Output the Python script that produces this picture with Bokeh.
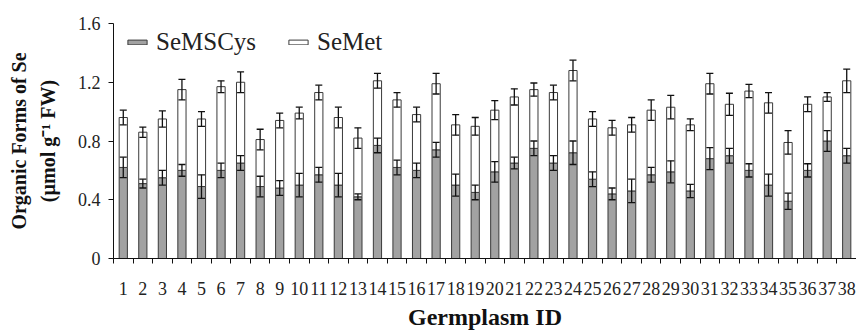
from bokeh.plotting import figure
from bokeh.models import (ColumnDataSource, Range1d, FixedTicker, Whisker, TeeHead,
                          Legend, LegendItem)
from bokeh.embed import file_html
from bokeh.resources import INLINE

germplasm = list(range(1, 39))
semscys = [0.62, 0.51, 0.55, 0.60, 0.49, 0.60, 0.65, 0.49, 0.48, 0.50,
           0.57, 0.50, 0.42, 0.77, 0.62, 0.60, 0.74, 0.50, 0.45, 0.59,
           0.65, 0.75, 0.65, 0.72, 0.54, 0.44, 0.46, 0.57, 0.59, 0.46,
           0.68, 0.70, 0.60, 0.50, 0.39, 0.60, 0.80, 0.70]
semscys_err = [0.07, 0.03, 0.05, 0.04, 0.08, 0.05, 0.05, 0.07, 0.05, 0.08,
               0.05, 0.08, 0.02, 0.05, 0.05, 0.05, 0.05, 0.075, 0.05, 0.07,
               0.04, 0.05, 0.05, 0.08, 0.05, 0.04, 0.08, 0.05, 0.075, 0.045,
               0.075, 0.05, 0.045, 0.075, 0.055, 0.045, 0.07, 0.05]
semet = [0.34, 0.35, 0.40, 0.55, 0.46, 0.57, 0.55, 0.32, 0.46, 0.49,
         0.56, 0.46, 0.40, 0.44, 0.46, 0.38, 0.45, 0.41, 0.45, 0.42,
         0.45, 0.40, 0.48, 0.56, 0.41, 0.45, 0.45, 0.44, 0.44, 0.45,
         0.51, 0.35, 0.54, 0.56, 0.40, 0.45, 0.30, 0.51]
total_err = [0.05, 0.035, 0.055, 0.07, 0.05, 0.04, 0.07, 0.07, 0.05, 0.04,
             0.05, 0.07, 0.07, 0.05, 0.05, 0.05, 0.07, 0.07, 0.06, 0.065,
             0.055, 0.045, 0.05, 0.07, 0.05, 0.05, 0.05, 0.07, 0.08, 0.04,
             0.07, 0.075, 0.045, 0.07, 0.08, 0.05, 0.03, 0.08]
y_ticks = [0, 0.4, 0.8, 1.2, 1.6]
y_tick_labels = ["0", "0.4", "0.8", "1.2", "1.6"]

total = [a + b for a, b in zip(semscys, semet)]
src = ColumnDataSource(dict(
    x=germplasm, g=semscys, t=total,
    g_lo=[a - e for a, e in zip(semscys, semscys_err)],
    g_hi=[a + e for a, e in zip(semscys, semscys_err)],
    t_lo=[a - e for a, e in zip(total, total_err)],
    t_hi=[a + e for a, e in zip(total, total_err)],
))

FONT = "Liberation Serif"

p = figure(width=856, height=332, output_backend="svg", toolbar_location=None,
           x_range=Range1d(0.5, 38.5), y_range=Range1d(0, 1.6),
           min_border_left=113, min_border_right=0, min_border_top=23,
           min_border_bottom=73)
p.outline_line_color = None
p.xgrid.visible = False
p.ygrid.visible = False

bw = 0.42
r1 = p.vbar(x="x", bottom=0, top="g", width=bw, source=src,
            fill_color="#a2a2a2", line_color="#3a3a3a", line_width=1)
r2 = p.vbar(x="x", bottom="g", top="t", width=bw, source=src,
            fill_color="white", line_color="#3a3a3a", line_width=1)

for lo, hi in (("g_lo", "g_hi"), ("t_lo", "t_hi")):
    w = Whisker(source=src, base="x", lower=lo, upper=hi, level="annotation",
                line_color="#111111", line_width=1.3,
                upper_head=TeeHead(size=7, line_color="#111111", line_width=1.3),
                lower_head=TeeHead(size=7, line_color="#111111", line_width=1.3))
    p.add_layout(w)

# x axis
xa = p.xaxis[0]
xa.ticker = FixedTicker(ticks=germplasm, minor_ticks=[i + 0.5 for i in range(0, 39)])
xa.major_tick_out = 0
xa.major_tick_in = 0
xa.minor_tick_out = 5
xa.minor_tick_in = 0
xa.minor_tick_line_color = "#111111"
xa.axis_line_color = "#111111"
xa.major_label_standoff = 18
xa.major_label_text_font = FONT
xa.major_label_text_font_size = "18px"
xa.major_label_text_color = "#222222"
xa.axis_label = "Germplasm ID"
xa.axis_label_text_font = FONT
xa.axis_label_text_font_style = "bold"
xa.axis_label_text_font_size = "24px"
xa.axis_label_text_color = "#111111"
xa.axis_label_standoff = 6

# y axis
ya = p.yaxis[0]
ya.ticker = FixedTicker(ticks=y_ticks, minor_ticks=[])
ya.major_label_overrides = {t: l for t, l in zip(y_ticks, y_tick_labels)}
ya.major_tick_out = 5
ya.major_tick_in = 0
ya.major_tick_line_color = "#111111"
ya.axis_line_color = "#111111"
ya.major_label_standoff = 8
ya.major_label_text_font = FONT
ya.major_label_text_font_size = "18px"
ya.major_label_text_color = "#222222"
ya.axis_label = "Organic Forms of Se\n(\u00b5mol g\u207b\u00b9 FW)"
ya.axis_label_text_font = FONT
ya.axis_label_text_font_style = "bold"
ya.axis_label_text_font_size = "20px"
ya.axis_label_text_color = "#111111"
ya.axis_label_text_line_height = 1.3
ya.axis_label_standoff = 16

legend = Legend(items=[LegendItem(label="SeMSCys", renderers=[r1]),
                       LegendItem(label="SeMet", renderers=[r2])],
                orientation="horizontal", location=(12, 202),
                glyph_width=24, glyph_height=6, label_standoff=7, spacing=30,
                padding=0, margin=0, border_line_color=None,
                background_fill_alpha=0,
                label_text_font=FONT, label_text_font_size="25px",
                label_text_color="#222222")
p.add_layout(legend, "center")

open("out.html", "w").write(file_html(p, INLINE))
